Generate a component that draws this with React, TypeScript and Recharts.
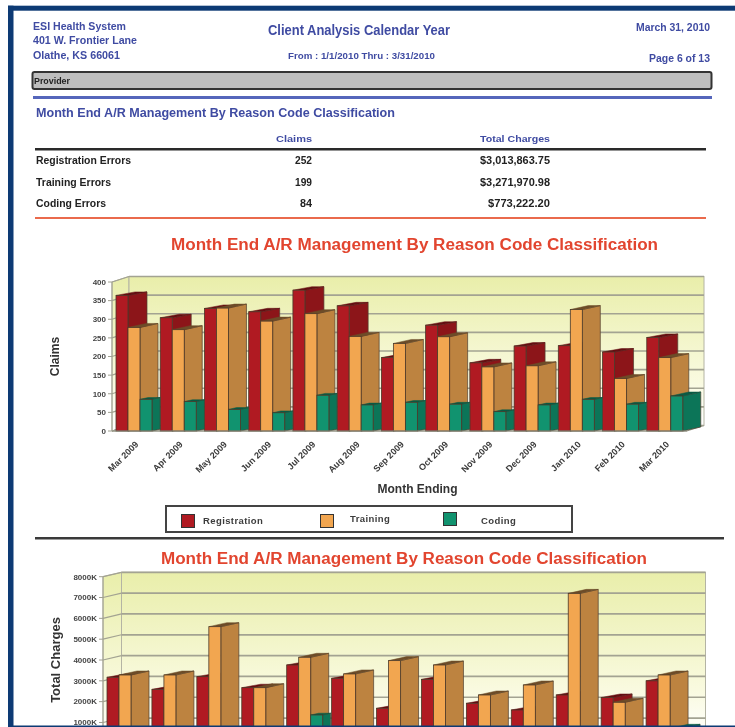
import React from "react";
import { BarChart, Bar, XAxis, YAxis, CartesianGrid, Legend } from "recharts";

const months = ["Mar 2009","Apr 2009","May 2009","Jun 2009","Jul 2009","Aug 2009","Sep 2009","Oct 2009","Nov 2009","Dec 2009","Jan 2010","Feb 2010","Mar 2010"];
const claimsRegistration = [364,304,329,320,378,336,197,284,183,228,229,212,251];
const claimsTraining = [278,272,330,295,315,254,235,253,172,175,326,141,197];
const claimsCoding = [85,79,58,49,96,70,77,72,52,70,85,72,94];
const chargesRegistration = [3170,2590,3200,2670,3760,3120,1680,3070,1920,1600,2320,2200,3000];
const chargesTraining = [3280,3280,5600,2670,4130,3330,3970,3760,2320,2800,7200,1970,3280];
const chargesCoding = [620,720,560,480,1360,720,560,720,520,600,640,600,720];
const claimsTicks = [0,50,100,150,200,250,300,350,400];
const chargesTicks = [0,1000,2000,3000,4000,5000,6000,7000,8000];

const claimsData = months.map((m,i)=>({month:m,Registration:claimsRegistration[i],Training:claimsTraining[i],Coding:claimsCoding[i]}));
const chargesData = months.map((m,i)=>({month:m,Registration:chargesRegistration[i],Training:chargesTraining[i],Coding:chargesCoding[i]}));

const FONT = "'Liberation Sans', Arial, sans-serif";
const BLUE = "#3f4ba2";
const RED_T = "#e2452f";

const COL = {
  Registration:{front:"#b01a22",side:"#8c1519",top:"#640f12"},
  Training:{front:"#f2a650",side:"#bd8340",top:"#6d4c28"},
  Coding:{front:"#11936f",side:"#0c7558",top:"#0a5a44"},
} as const;

type Shape3D = {c:{front:string;side:string;top:string};depth:number;rise:number;clip?:number};
const make3D = ({c,depth,rise,clip}:Shape3D) => (p:any) => {
  const {x,y,width:w,height:h,index} = p;
  if (!(h>0)) return <g/>;
  const d = clip!==undefined && index<months.length-1 ? clip : depth;
  const r = rise*d/depth;
  const pts = (a:number[][]) => a.map(q=>q.join(",")).join(" ");
  return (
    <g>
      <polygon points={pts([[x+w,y],[x+w+d,y-r],[x+w+d,y+h-r],[x+w,y+h]])} fill={c.side} stroke="#4f3f30" strokeWidth={0.7}/>
      <polygon points={pts([[x,y],[x+w,y],[x+w+d,y-r],[x+d,y-r]])} fill={c.top} stroke={c.top} strokeWidth={0.5}/>
      <rect x={x} y={y} width={w} height={h} fill={c.front} stroke="#4a3828" strokeWidth={0.8}/>
    </g>
  );
};

const makeGrid = (id:string,left:number,right:number,top:number,bottom:number,dx:number,dy:number) => (p:any) => {
  const {y1,index} = p;
  return (
    <g key={`${id}-${index}`}>
      {index===0 && (
        <g>
          <defs>
            <linearGradient id={id} x1="0" y1="0" x2="0" y2="1">
              <stop offset="0" stopColor="#e9eeaa"/>
              <stop offset="0.7" stopColor="#f9fadf"/>
              <stop offset="1" stopColor="#ffffff"/>
            </linearGradient>
          </defs>
          <polygon points={`${left},${top} ${left+dx},${top-dy} ${left+dx},${bottom-dy} ${left},${bottom}`} fill={`url(#${id})`} stroke="#b4b4a4"/>
          <rect x={left+dx} y={top-dy} width={right-left} height={bottom-top} fill={`url(#${id})`} stroke="#b4b4a4"/>
          <polygon points={`${left},${bottom} ${right},${bottom} ${right+dx},${bottom-dy} ${left+dx},${bottom-dy}`} fill="#e9e9d2" stroke="#a0a090"/>
        </g>
      )}
      <line x1={left} y1={y1} x2={left+dx} y2={y1-dy} stroke="#a3a392" strokeWidth={1.2}/>
      <line x1={left+dx} y1={y1-dy} x2={right+dx} y2={y1-dy} stroke="#a3a392" strokeWidth={1.7}/>
    </g>
  );
};

const MonthTick = (p:any) => (
  <text x={p.x+5} y={p.y+6} textAnchor="end" transform={`rotate(-45 ${p.x+5} ${p.y+6})`} fontFamily={FONT} fontSize={9} fontWeight={700} fill="#3a3a3a">
    {p.payload.value}
  </text>
);

const LegendBox = (p:any) => {
  const slots:Record<string,[number,number,number,number]> = {
    Registration:[181,514,203,521],
    Training:[320,514,350,519],
    Coding:[443,512,481,521],
  };
  return (
    <div style={{position:"relative",width:735,height:40}}>
      <div style={{position:"absolute",left:165,top:0,width:404,height:24,border:"2px solid #444"}}/>
      {(p.payload||[]).map((e:any)=>{
        const s = slots[e.value];
        return (
          <React.Fragment key={e.value}>
            <div style={{position:"absolute",left:s[0],top:s[1]-505,width:12,height:12,background:e.color,border:"1px solid #333"}}/>
            <div style={{position:"absolute",left:s[2],top:s[3]-505-6,fontFamily:FONT,fontSize:9.5,lineHeight:"12px",fontWeight:700,color:"#3c3c3c",letterSpacing:0.4}}>{e.value}</div>
          </React.Fragment>
        );
      })}
    </div>
  );
};

const T = (p:{x:number;y:number;w:number;s:number;c?:string;children:string}) => (
  <text x={p.x} y={p.y} textLength={p.w} lengthAdjust="spacingAndGlyphs" fontFamily={FONT} fontWeight={700} fontSize={p.s} fill={p.c||BLUE}>{p.children}</text>
);

const C1 = {left:112,right:687,top:282,bottom:431,dx:17,dy:5.5};
const C2 = {left:103,right:687,top:576.7,bottom:743.3,dx:18.5,dy:4.4};

const sectionTitle = "Month End A/R Management By Reason Code Classification";

export default function App(){
  return (
    <div style={{position:"fixed",left:0,top:0,width:735,height:727,overflow:"hidden",background:"#fff",filter:"blur(0.55px)"}}>
      <svg width={735} height={727} style={{position:"absolute",left:0,top:0}}>
        <T x={33} y={30} w={93} s={10}>ESI Health System</T>
        <T x={33} y={44} w={104} s={10}>401 W. Frontier Lane</T>
        <T x={33} y={59} w={87} s={10}>Olathe,  KS 66061</T>
        <T x={268} y={35} w={182} s={15}>Client Analysis Calendar Year</T>
        <T x={288} y={59} w={147} s={9}>From : 1/1/2010  Thru : 3/31/2010</T>
        <T x={636} y={31} w={74} s={10}>March 31, 2010</T>
        <T x={649} y={62} w={61} s={10}>Page 6 of 13</T>
        <rect x={32.5} y={72} width={679} height={17} rx={2} fill="#bebebe" stroke="#333" strokeWidth={2}/>
        <T x={34} y={84} w={36} s={9} c="#222">Provider</T>
        <rect x={33} y={96} width={679} height={3} fill="#5566bb"/>
        <T x={36} y={117} w={359} s={13}>{sectionTitle}</T>
        <T x={276} y={142} w={36} s={9.5}>Claims</T>
        <T x={480} y={142} w={70} s={9.5}>Total Charges</T>
        <rect x={35} y={148} width={671} height={2.5} fill="#2a2a2a"/>
        <T x={36} y={164} w={95} s={10} c="#222">Registration Errors</T>
        <T x={295} y={164} w={17} s={10} c="#222">252</T>
        <T x={480} y={164} w={70} s={10} c="#222">$3,013,863.75</T>
        <T x={36} y={186} w={75} s={10} c="#222">Training Errors</T>
        <T x={295} y={186} w={17} s={10} c="#222">199</T>
        <T x={480} y={186} w={70} s={10} c="#222">$3,271,970.98</T>
        <T x={36} y={207} w={70} s={10} c="#222">Coding Errors</T>
        <T x={300} y={207} w={12} s={10} c="#222">84</T>
        <T x={488} y={207} w={62} s={10} c="#222">$773,222.20</T>
        <rect x={35} y={217} width={671} height={2} fill="#ea6a4c"/>
        <T x={171} y={250} w={487} s={16} c={RED_T}>{sectionTitle}</T>
        <rect x={35} y={537} width={689} height={2.5} fill="#3a3a3a"/>
        <T x={161} y={564} w={486} s={16} c={RED_T}>{sectionTitle}</T>
      </svg>

      <div style={{position:"absolute",left:0,top:0}}>
        <BarChart width={735} height={535} data={claimsData} barGap={0} barCategoryGap={4}
          margin={{top:C1.top,right:735-C1.right,bottom:24,left:0}}>
          <CartesianGrid vertical={false} stroke="none"
            horizontal={makeGrid("wall1",C1.left,C1.right,C1.top,C1.bottom,C1.dx,C1.dy) as any}/>
          <XAxis dataKey="month" interval={0} height={80} tick={MonthTick as any} tickLine={false} axisLine={{stroke:"#8d8d80"}}
            label={{value:"Month Ending",position:"insideBottom",offset:18,dx:18,fontFamily:FONT,fontSize:12,fontWeight:700,fill:"#333"}}/>
          <YAxis width={C1.left} domain={[0,400]} ticks={claimsTicks} interval={0} tickSize={4} tickMargin={2} axisLine={{stroke:"#a0a090"}} tickLine={{stroke:"#a0a090"}}
            tick={{fontFamily:FONT,fontSize:8,fontWeight:700,fill:"#444"}}
            label={{value:"Claims",angle:-90,position:"insideLeft",offset:55,textAnchor:"middle",fontFamily:FONT,fontSize:12,fontWeight:700,fill:"#333"}}/>
          <Bar dataKey="Registration" fill={COL.Registration.front} isAnimationActive={false} shape={make3D({c:COL.Registration,depth:19,rise:3.5}) as any}/>
          <Bar dataKey="Training" fill={COL.Training.front} isAnimationActive={false} shape={make3D({c:COL.Training,depth:18,rise:4}) as any}/>
          <Bar dataKey="Coding" fill={COL.Coding.front} isAnimationActive={false} shape={make3D({c:COL.Coding,depth:18,rise:4,clip:8.2}) as any}/>
          <Legend layout="horizontal" verticalAlign="middle" align="center" content={LegendBox as any}
            wrapperStyle={{left:0,top:505,width:735,height:30,margin:0}}/>
        </BarChart>
      </div>

      <div style={{position:"absolute",left:0,top:540}}>
        <BarChart width={735} height={260} data={chargesData} barGap={0} barCategoryGap={4}
          margin={{top:C2.top-540,right:735-C2.right,bottom:800-C2.bottom,left:0}}>
          <CartesianGrid vertical={false} stroke="none"
            horizontal={makeGrid("wall2",C2.left,C2.right,C2.top-540,C2.bottom-540,C2.dx,C2.dy) as any}/>
          <XAxis dataKey="month" hide interval={0}/>
          <YAxis width={C2.left} domain={[0,8000]} ticks={chargesTicks} interval={0} tickSize={4} tickMargin={2} axisLine={{stroke:"#a0a090"}} tickLine={{stroke:"#a0a090"}}
            tickFormatter={(v:number)=>`${v}K`}
            tick={{fontFamily:FONT,fontSize:8,fontWeight:700,fill:"#444"}}
            label={{value:"Total Charges",angle:-90,position:"insideLeft",offset:55,textAnchor:"middle",fontFamily:FONT,fontSize:13,fontWeight:700,fill:"#333"}}/>
          <Bar dataKey="Registration" fill={COL.Registration.front} isAnimationActive={false} shape={make3D({c:COL.Registration,depth:19,rise:3.5}) as any}/>
          <Bar dataKey="Training" fill={COL.Training.front} isAnimationActive={false} shape={make3D({c:COL.Training,depth:18,rise:4}) as any}/>
          <Bar dataKey="Coding" fill={COL.Coding.front} isAnimationActive={false} shape={make3D({c:COL.Coding,depth:18,rise:4,clip:8}) as any}/>
        </BarChart>
      </div>

      <svg width={735} height={727} style={{position:"absolute",left:0,top:0,pointerEvents:"none"}}>
        <rect x={8} y={5.7} width={727} height={5} fill="#0d3a74"/>
        <rect x={8} y={5.7} width={5.5} height={722} fill="#0d3a74"/>
        <rect x={8} y={725.5} width={727} height={2} fill="#0d3a74"/>
      </svg>
    </div>
  );
}
